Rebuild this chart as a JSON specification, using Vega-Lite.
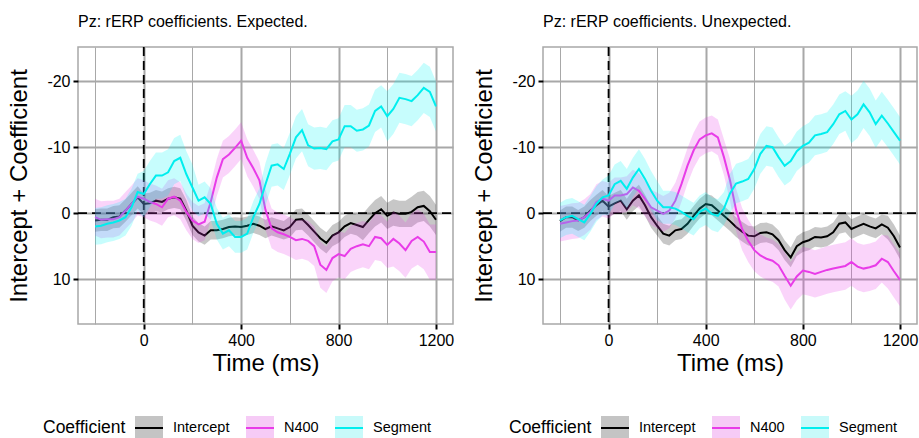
{
  "$schema": "https://vega.github.io/schema/vega-lite/v6.json",
  "padding": {"left": 7, "top": 13, "right": 4, "bottom": 1},
  "spacing": 17,
  "config": {
    "font": "Liberation Sans",
    "view": {"stroke": "#a8a8a8", "strokeWidth": 1.5},
    "axis": {"domain": false, "labelFont": "Liberation Sans", "labelFontSize": 16, "labelColor": "black", "titleFont": "Liberation Sans", "titleFontSize": 24, "titleFontWeight": "normal", "titleColor": "black", "tickColor": "black", "tickWidth": 2, "tickSize": 5, "gridColor": "#a8a8a8", "labelFlush": false, "labelOverlap": false},
    "title": {"font": "Liberation Sans", "fontSize": 16, "fontWeight": "normal", "anchor": "start", "frame": "group", "color": "black", "baseline": "alphabetic", "offset": 16},
    "legend": {"titleFont": "Liberation Sans", "labelFont": "Liberation Sans", "titleFontSize": 17.5, "titleFontWeight": "normal", "titleColor": "black", "labelFontSize": 14.5, "labelColor": "black"}
  },
  "datasets": {
    "exp": [
      {"c":"Intercept","t":-200,"y":1.1,"lo":-0.6,"hi":2.8},{"c":"Intercept","t":-175,"y":1.0,"lo":-0.7,"hi":2.7},{"c":"Intercept","t":-150,"y":1.0,"lo":-0.7,"hi":2.7},{"c":"Intercept","t":-125,"y":0.6,"lo":-1.1,"hi":2.3},{"c":"Intercept","t":-100,"y":0.5,"lo":-1.2,"hi":2.2},{"c":"Intercept","t":-75,"y":-0.4,"lo":-2.1,"hi":1.3},{"c":"Intercept","t":-50,"y":-1.4,"lo":-3.1,"hi":0.3},{"c":"Intercept","t":-25,"y":-2.4,"lo":-4.1,"hi":-0.7},{"c":"Intercept","t":0,"y":-1.4,"lo":-3.0,"hi":0.2},{"c":"Intercept","t":25,"y":-1.5,"lo":-3.1,"hi":0.1},{"c":"Intercept","t":50,"y":-1.9,"lo":-3.5,"hi":-0.3},{"c":"Intercept","t":75,"y":-1.7,"lo":-3.3,"hi":-0.1},{"c":"Intercept","t":100,"y":-2.2,"lo":-3.8,"hi":-0.6},{"c":"Intercept","t":125,"y":-2.4,"lo":-4.0,"hi":-0.8},{"c":"Intercept","t":150,"y":-2.2,"lo":-3.8,"hi":-0.6},{"c":"Intercept","t":175,"y":-0.4,"lo":-2.0,"hi":1.2},{"c":"Intercept","t":200,"y":1.9,"lo":0.5,"hi":3.3},{"c":"Intercept","t":225,"y":2.9,"lo":1.5,"hi":4.3},{"c":"Intercept","t":250,"y":3.4,"lo":2.0,"hi":4.8},{"c":"Intercept","t":275,"y":2.6,"lo":1.2,"hi":4.0},{"c":"Intercept","t":300,"y":2.6,"lo":1.2,"hi":4.0},{"c":"Intercept","t":325,"y":2.4,"lo":1.0,"hi":3.8},{"c":"Intercept","t":350,"y":2.1,"lo":0.7,"hi":3.5},{"c":"Intercept","t":375,"y":2.0,"lo":0.6,"hi":3.4},{"c":"Intercept","t":400,"y":2.1,"lo":0.7,"hi":3.5},{"c":"Intercept","t":425,"y":1.9,"lo":0.5,"hi":3.3},{"c":"Intercept","t":450,"y":1.6,"lo":0.2,"hi":3.0},{"c":"Intercept","t":475,"y":1.9,"lo":0.5,"hi":3.3},{"c":"Intercept","t":500,"y":2.4,"lo":1.0,"hi":3.8},{"c":"Intercept","t":525,"y":2.0,"lo":0.6,"hi":3.4},{"c":"Intercept","t":550,"y":2.3,"lo":0.9,"hi":3.7},{"c":"Intercept","t":575,"y":2.6,"lo":1.2,"hi":4.0},{"c":"Intercept","t":600,"y":2.1,"lo":0.5,"hi":3.7},{"c":"Intercept","t":625,"y":1.0,"lo":-0.6,"hi":2.6},{"c":"Intercept","t":650,"y":0.9,"lo":-0.7,"hi":2.5},{"c":"Intercept","t":675,"y":1.8,"lo":0.2,"hi":3.4},{"c":"Intercept","t":700,"y":2.8,"lo":1.2,"hi":4.4},{"c":"Intercept","t":725,"y":3.8,"lo":2.2,"hi":5.4},{"c":"Intercept","t":750,"y":4.5,"lo":2.9,"hi":6.1},{"c":"Intercept","t":775,"y":3.4,"lo":1.8,"hi":5.0},{"c":"Intercept","t":800,"y":2.9,"lo":1.3,"hi":4.5},{"c":"Intercept","t":825,"y":2.0,"lo":0.4,"hi":3.6},{"c":"Intercept","t":850,"y":1.5,"lo":-0.1,"hi":3.1},{"c":"Intercept","t":875,"y":1.8,"lo":0.2,"hi":3.4},{"c":"Intercept","t":900,"y":2.1,"lo":0.1,"hi":4.1},{"c":"Intercept","t":925,"y":1.0,"lo":-1.0,"hi":3.0},{"c":"Intercept","t":950,"y":0.0,"lo":-2.0,"hi":2.0},{"c":"Intercept","t":975,"y":-0.6,"lo":-2.6,"hi":1.4},{"c":"Intercept","t":1000,"y":0.4,"lo":-1.6,"hi":2.4},{"c":"Intercept","t":1025,"y":-0.1,"lo":-2.1,"hi":1.9},{"c":"Intercept","t":1050,"y":0.1,"lo":-1.9,"hi":2.1},{"c":"Intercept","t":1075,"y":0.1,"lo":-1.9,"hi":2.1},{"c":"Intercept","t":1100,"y":-0.2,"lo":-2.5,"hi":2.1},{"c":"Intercept","t":1125,"y":-0.9,"lo":-3.2,"hi":1.4},{"c":"Intercept","t":1150,"y":-1.1,"lo":-3.4,"hi":1.2},{"c":"Intercept","t":1175,"y":-0.3,"lo":-2.6,"hi":2.0},{"c":"Intercept","t":1200,"y":1.0,"lo":-1.3,"hi":3.3},
      {"c":"N400","t":-200,"y":0.6,"lo":-2.2,"hi":3.4},{"c":"N400","t":-175,"y":1.0,"lo":-1.8,"hi":3.8},{"c":"N400","t":-150,"y":0.9,"lo":-1.9,"hi":3.7},{"c":"N400","t":-125,"y":0.9,"lo":-1.9,"hi":3.7},{"c":"N400","t":-100,"y":0.6,"lo":-2.2,"hi":3.4},{"c":"N400","t":-75,"y":-0.4,"lo":-3.2,"hi":2.4},{"c":"N400","t":-50,"y":-1.4,"lo":-4.2,"hi":1.4},{"c":"N400","t":-25,"y":-2.5,"lo":-5.3,"hi":0.3},{"c":"N400","t":0,"y":-2.2,"lo":-5.0,"hi":0.6},{"c":"N400","t":25,"y":-1.7,"lo":-4.5,"hi":1.1},{"c":"N400","t":50,"y":-1.4,"lo":-4.2,"hi":1.4},{"c":"N400","t":75,"y":-0.9,"lo":-3.7,"hi":1.9},{"c":"N400","t":100,"y":-2.2,"lo":-5.0,"hi":0.6},{"c":"N400","t":125,"y":-2.5,"lo":-5.3,"hi":0.3},{"c":"N400","t":150,"y":-1.9,"lo":-4.7,"hi":0.9},{"c":"N400","t":175,"y":-0.2,"lo":-3.0,"hi":2.6},{"c":"N400","t":200,"y":1.1,"lo":-1.7,"hi":3.9},{"c":"N400","t":225,"y":1.7,"lo":-1.1,"hi":4.5},{"c":"N400","t":250,"y":1.3,"lo":-1.5,"hi":4.1},{"c":"N400","t":275,"y":-1.7,"lo":-4.5,"hi":1.1},{"c":"N400","t":300,"y":-5.4,"lo":-8.2,"hi":-2.6},{"c":"N400","t":325,"y":-8.2,"lo":-11.0,"hi":-5.4},{"c":"N400","t":350,"y":-8.9,"lo":-11.7,"hi":-6.1},{"c":"N400","t":375,"y":-9.9,"lo":-12.7,"hi":-7.1},{"c":"N400","t":400,"y":-11.0,"lo":-13.8,"hi":-8.2},{"c":"N400","t":425,"y":-8.4,"lo":-11.2,"hi":-5.6},{"c":"N400","t":450,"y":-6.8,"lo":-9.6,"hi":-4.0},{"c":"N400","t":475,"y":-5.0,"lo":-7.8,"hi":-2.2},{"c":"N400","t":500,"y":-0.5,"lo":-3.5,"hi":2.5},{"c":"N400","t":525,"y":2.3,"lo":-0.7,"hi":5.3},{"c":"N400","t":550,"y":2.9,"lo":-0.1,"hi":5.9},{"c":"N400","t":575,"y":3.2,"lo":0.2,"hi":6.2},{"c":"N400","t":600,"y":3.6,"lo":0.6,"hi":6.6},{"c":"N400","t":625,"y":4.1,"lo":1.1,"hi":7.1},{"c":"N400","t":650,"y":3.9,"lo":0.9,"hi":6.9},{"c":"N400","t":675,"y":4.2,"lo":1.2,"hi":7.2},{"c":"N400","t":700,"y":5.0,"lo":2.0,"hi":8.0},{"c":"N400","t":725,"y":7.8,"lo":4.3,"hi":11.3},{"c":"N400","t":750,"y":8.6,"lo":5.1,"hi":12.1},{"c":"N400","t":775,"y":6.8,"lo":3.3,"hi":10.3},{"c":"N400","t":800,"y":6.2,"lo":2.7,"hi":9.7},{"c":"N400","t":825,"y":6.5,"lo":3.0,"hi":10.0},{"c":"N400","t":850,"y":5.4,"lo":1.9,"hi":8.9},{"c":"N400","t":875,"y":5.0,"lo":1.5,"hi":8.5},{"c":"N400","t":900,"y":4.7,"lo":1.2,"hi":8.2},{"c":"N400","t":925,"y":5.0,"lo":1.5,"hi":8.5},{"c":"N400","t":950,"y":3.6,"lo":0.1,"hi":7.1},{"c":"N400","t":975,"y":3.8,"lo":0.3,"hi":7.3},{"c":"N400","t":1000,"y":4.8,"lo":1.3,"hi":8.3},{"c":"N400","t":1025,"y":3.9,"lo":-0.3,"hi":8.1},{"c":"N400","t":1050,"y":4.6,"lo":0.4,"hi":8.8},{"c":"N400","t":1075,"y":5.6,"lo":1.4,"hi":9.8},{"c":"N400","t":1100,"y":4.2,"lo":0.0,"hi":8.4},{"c":"N400","t":1125,"y":3.6,"lo":-0.6,"hi":7.8},{"c":"N400","t":1150,"y":4.3,"lo":0.1,"hi":8.5},{"c":"N400","t":1175,"y":5.9,"lo":1.7,"hi":10.1},{"c":"N400","t":1200,"y":5.9,"lo":1.7,"hi":10.1},
      {"c":"Segment","t":-200,"y":2.0,"lo":-0.8,"hi":4.8},{"c":"Segment","t":-175,"y":1.9,"lo":-0.9,"hi":4.7},{"c":"Segment","t":-150,"y":1.6,"lo":-1.2,"hi":4.4},{"c":"Segment","t":-125,"y":1.4,"lo":-1.4,"hi":4.2},{"c":"Segment","t":-100,"y":1.1,"lo":-1.7,"hi":3.9},{"c":"Segment","t":-75,"y":0.6,"lo":-2.2,"hi":3.4},{"c":"Segment","t":-50,"y":-0.9,"lo":-3.7,"hi":1.9},{"c":"Segment","t":-25,"y":-3.2,"lo":-6.0,"hi":-0.4},{"c":"Segment","t":0,"y":-2.9,"lo":-6.4,"hi":0.6},{"c":"Segment","t":25,"y":-4.4,"lo":-7.9,"hi":-0.9},{"c":"Segment","t":50,"y":-5.7,"lo":-9.2,"hi":-2.2},{"c":"Segment","t":75,"y":-5.7,"lo":-9.2,"hi":-2.2},{"c":"Segment","t":100,"y":-6.2,"lo":-9.7,"hi":-2.7},{"c":"Segment","t":125,"y":-7.9,"lo":-11.4,"hi":-4.4},{"c":"Segment","t":150,"y":-8.4,"lo":-11.9,"hi":-4.9},{"c":"Segment","t":175,"y":-5.9,"lo":-9.4,"hi":-2.4},{"c":"Segment","t":200,"y":-3.9,"lo":-7.4,"hi":-0.4},{"c":"Segment","t":225,"y":-1.9,"lo":-4.3,"hi":0.5},{"c":"Segment","t":250,"y":-2.4,"lo":-4.8,"hi":0.0},{"c":"Segment","t":275,"y":-1.4,"lo":-3.8,"hi":1.0},{"c":"Segment","t":300,"y":1.6,"lo":-0.8,"hi":4.0},{"c":"Segment","t":325,"y":3.1,"lo":0.7,"hi":5.5},{"c":"Segment","t":350,"y":2.6,"lo":0.2,"hi":5.0},{"c":"Segment","t":375,"y":3.6,"lo":1.2,"hi":6.0},{"c":"Segment","t":400,"y":3.6,"lo":1.2,"hi":6.0},{"c":"Segment","t":425,"y":3.1,"lo":0.7,"hi":5.5},{"c":"Segment","t":450,"y":0.6,"lo":-1.8,"hi":3.0},{"c":"Segment","t":475,"y":-1.4,"lo":-3.8,"hi":1.0},{"c":"Segment","t":500,"y":-4.4,"lo":-7.6,"hi":-1.2},{"c":"Segment","t":525,"y":-7.2,"lo":-10.4,"hi":-4.0},{"c":"Segment","t":550,"y":-7.4,"lo":-10.6,"hi":-4.2},{"c":"Segment","t":575,"y":-6.7,"lo":-9.9,"hi":-3.5},{"c":"Segment","t":600,"y":-9.0,"lo":-12.2,"hi":-5.8},{"c":"Segment","t":625,"y":-11.5,"lo":-14.7,"hi":-8.3},{"c":"Segment","t":650,"y":-12.6,"lo":-15.8,"hi":-9.4},{"c":"Segment","t":675,"y":-10.3,"lo":-13.5,"hi":-7.1},{"c":"Segment","t":700,"y":-9.8,"lo":-13.0,"hi":-6.6},{"c":"Segment","t":725,"y":-9.9,"lo":-13.1,"hi":-6.7},{"c":"Segment","t":750,"y":-9.7,"lo":-12.9,"hi":-6.5},{"c":"Segment","t":775,"y":-10.9,"lo":-14.1,"hi":-7.7},{"c":"Segment","t":800,"y":-11.2,"lo":-14.4,"hi":-8.0},{"c":"Segment","t":825,"y":-13.2,"lo":-16.4,"hi":-10.0},{"c":"Segment","t":850,"y":-13.2,"lo":-16.4,"hi":-10.0},{"c":"Segment","t":875,"y":-12.5,"lo":-15.7,"hi":-9.3},{"c":"Segment","t":900,"y":-12.7,"lo":-15.9,"hi":-9.5},{"c":"Segment","t":925,"y":-13.3,"lo":-16.5,"hi":-10.1},{"c":"Segment","t":950,"y":-15.5,"lo":-18.7,"hi":-12.3},{"c":"Segment","t":975,"y":-16.2,"lo":-19.4,"hi":-13.0},{"c":"Segment","t":1000,"y":-14.7,"lo":-18.5,"hi":-10.9},{"c":"Segment","t":1025,"y":-15.8,"lo":-19.6,"hi":-12.0},{"c":"Segment","t":1050,"y":-17.5,"lo":-21.3,"hi":-13.7},{"c":"Segment","t":1075,"y":-17.3,"lo":-21.1,"hi":-13.5},{"c":"Segment","t":1100,"y":-17.0,"lo":-20.8,"hi":-13.2},{"c":"Segment","t":1125,"y":-17.9,"lo":-21.7,"hi":-14.1},{"c":"Segment","t":1150,"y":-19.0,"lo":-22.8,"hi":-15.2},{"c":"Segment","t":1175,"y":-18.4,"lo":-22.2,"hi":-14.6},{"c":"Segment","t":1200,"y":-16.2,"lo":-20.0,"hi":-12.4}
    ],
    "unexp": [
      {"c":"Intercept","t":-200,"y":1.2,"lo":-0.4,"hi":2.8},{"c":"Intercept","t":-175,"y":0.6,"lo":-1.0,"hi":2.2},{"c":"Intercept","t":-150,"y":0.6,"lo":-1.0,"hi":2.2},{"c":"Intercept","t":-125,"y":1.1,"lo":-0.5,"hi":2.7},{"c":"Intercept","t":-100,"y":0.6,"lo":-1.0,"hi":2.2},{"c":"Intercept","t":-75,"y":-0.4,"lo":-2.0,"hi":1.2},{"c":"Intercept","t":-50,"y":-1.2,"lo":-2.8,"hi":0.4},{"c":"Intercept","t":-25,"y":-1.9,"lo":-3.5,"hi":-0.3},{"c":"Intercept","t":0,"y":-1.0,"lo":-2.6,"hi":0.6},{"c":"Intercept","t":25,"y":-1.5,"lo":-3.1,"hi":0.1},{"c":"Intercept","t":50,"y":-1.9,"lo":-3.5,"hi":-0.3},{"c":"Intercept","t":75,"y":-0.6,"lo":-2.2,"hi":1.0},{"c":"Intercept","t":100,"y":-1.9,"lo":-3.5,"hi":-0.3},{"c":"Intercept","t":125,"y":-2.7,"lo":-4.3,"hi":-1.1},{"c":"Intercept","t":150,"y":-1.2,"lo":-2.8,"hi":0.4},{"c":"Intercept","t":175,"y":0.6,"lo":-1.0,"hi":2.2},{"c":"Intercept","t":200,"y":1.9,"lo":0.4,"hi":3.4},{"c":"Intercept","t":225,"y":3.1,"lo":1.6,"hi":4.6},{"c":"Intercept","t":250,"y":3.4,"lo":1.9,"hi":4.9},{"c":"Intercept","t":275,"y":2.6,"lo":1.1,"hi":4.1},{"c":"Intercept","t":300,"y":2.4,"lo":0.9,"hi":3.9},{"c":"Intercept","t":325,"y":1.6,"lo":0.1,"hi":3.1},{"c":"Intercept","t":350,"y":0.4,"lo":-1.1,"hi":1.9},{"c":"Intercept","t":375,"y":-0.7,"lo":-2.2,"hi":0.8},{"c":"Intercept","t":400,"y":-1.4,"lo":-2.9,"hi":0.1},{"c":"Intercept","t":425,"y":-1.2,"lo":-2.7,"hi":0.3},{"c":"Intercept","t":450,"y":-0.4,"lo":-1.9,"hi":1.1},{"c":"Intercept","t":475,"y":0.4,"lo":-1.1,"hi":1.9},{"c":"Intercept","t":500,"y":1.2,"lo":-0.3,"hi":2.7},{"c":"Intercept","t":525,"y":2.1,"lo":0.6,"hi":3.6},{"c":"Intercept","t":550,"y":2.8,"lo":1.3,"hi":4.3},{"c":"Intercept","t":575,"y":3.4,"lo":1.9,"hi":4.9},{"c":"Intercept","t":600,"y":3.5,"lo":2.0,"hi":5.0},{"c":"Intercept","t":625,"y":3.0,"lo":1.5,"hi":4.5},{"c":"Intercept","t":650,"y":2.9,"lo":1.4,"hi":4.4},{"c":"Intercept","t":675,"y":3.2,"lo":1.7,"hi":4.7},{"c":"Intercept","t":700,"y":4.1,"lo":2.6,"hi":5.6},{"c":"Intercept","t":725,"y":5.6,"lo":4.1,"hi":7.1},{"c":"Intercept","t":750,"y":6.7,"lo":5.2,"hi":8.2},{"c":"Intercept","t":775,"y":5.0,"lo":3.5,"hi":6.5},{"c":"Intercept","t":800,"y":4.4,"lo":2.9,"hi":5.9},{"c":"Intercept","t":825,"y":4.1,"lo":2.6,"hi":5.6},{"c":"Intercept","t":850,"y":3.6,"lo":2.1,"hi":5.1},{"c":"Intercept","t":875,"y":3.7,"lo":2.2,"hi":5.2},{"c":"Intercept","t":900,"y":3.5,"lo":2.0,"hi":5.0},{"c":"Intercept","t":925,"y":2.9,"lo":1.4,"hi":4.4},{"c":"Intercept","t":950,"y":1.6,"lo":0.1,"hi":3.1},{"c":"Intercept","t":975,"y":1.4,"lo":-0.1,"hi":2.9},{"c":"Intercept","t":1000,"y":2.4,"lo":0.9,"hi":3.9},{"c":"Intercept","t":1025,"y":2.0,"lo":0.5,"hi":3.5},{"c":"Intercept","t":1050,"y":1.6,"lo":0.1,"hi":3.1},{"c":"Intercept","t":1075,"y":2.0,"lo":0.5,"hi":3.5},{"c":"Intercept","t":1100,"y":2.3,"lo":0.8,"hi":3.8},{"c":"Intercept","t":1125,"y":1.7,"lo":0.2,"hi":3.2},{"c":"Intercept","t":1150,"y":2.2,"lo":0.4,"hi":4.0},{"c":"Intercept","t":1175,"y":3.5,"lo":1.7,"hi":5.3},{"c":"Intercept","t":1200,"y":5.2,"lo":3.4,"hi":7.0},
      {"c":"N400","t":-200,"y":1.6,"lo":-1.1,"hi":4.3},{"c":"N400","t":-175,"y":1.4,"lo":-1.3,"hi":4.1},{"c":"N400","t":-150,"y":1.2,"lo":-1.5,"hi":3.9},{"c":"N400","t":-125,"y":1.1,"lo":-1.6,"hi":3.8},{"c":"N400","t":-100,"y":0.6,"lo":-2.1,"hi":3.3},{"c":"N400","t":-75,"y":-0.2,"lo":-2.9,"hi":2.5},{"c":"N400","t":-50,"y":-1.7,"lo":-4.4,"hi":1.0},{"c":"N400","t":-25,"y":-2.2,"lo":-4.9,"hi":0.5},{"c":"N400","t":0,"y":-1.9,"lo":-4.6,"hi":0.8},{"c":"N400","t":25,"y":-2.7,"lo":-5.4,"hi":0.0},{"c":"N400","t":50,"y":-2.7,"lo":-5.4,"hi":0.0},{"c":"N400","t":75,"y":-2.9,"lo":-5.6,"hi":-0.2},{"c":"N400","t":100,"y":-3.9,"lo":-6.6,"hi":-1.2},{"c":"N400","t":125,"y":-3.4,"lo":-6.1,"hi":-0.7},{"c":"N400","t":150,"y":-2.2,"lo":-4.9,"hi":0.5},{"c":"N400","t":175,"y":-0.9,"lo":-3.6,"hi":1.8},{"c":"N400","t":200,"y":-0.4,"lo":-3.1,"hi":2.3},{"c":"N400","t":225,"y":0.1,"lo":-2.6,"hi":2.8},{"c":"N400","t":250,"y":-0.4,"lo":-3.1,"hi":2.3},{"c":"N400","t":275,"y":-1.9,"lo":-4.6,"hi":0.8},{"c":"N400","t":300,"y":-4.4,"lo":-7.1,"hi":-1.7},{"c":"N400","t":325,"y":-7.2,"lo":-9.9,"hi":-4.5},{"c":"N400","t":350,"y":-9.5,"lo":-12.2,"hi":-6.8},{"c":"N400","t":375,"y":-11.2,"lo":-13.9,"hi":-8.5},{"c":"N400","t":400,"y":-11.8,"lo":-14.5,"hi":-9.1},{"c":"N400","t":425,"y":-12.1,"lo":-14.8,"hi":-9.4},{"c":"N400","t":450,"y":-11.5,"lo":-14.2,"hi":-8.8},{"c":"N400","t":475,"y":-8.5,"lo":-11.2,"hi":-5.8},{"c":"N400","t":500,"y":-5.0,"lo":-8.2,"hi":-1.8},{"c":"N400","t":525,"y":-0.5,"lo":-3.7,"hi":2.7},{"c":"N400","t":550,"y":2.4,"lo":-0.8,"hi":5.6},{"c":"N400","t":575,"y":4.2,"lo":1.0,"hi":7.4},{"c":"N400","t":600,"y":5.6,"lo":2.4,"hi":8.8},{"c":"N400","t":625,"y":6.4,"lo":3.2,"hi":9.6},{"c":"N400","t":650,"y":6.9,"lo":3.7,"hi":10.1},{"c":"N400","t":675,"y":7.2,"lo":4.0,"hi":10.4},{"c":"N400","t":700,"y":7.9,"lo":4.7,"hi":11.1},{"c":"N400","t":725,"y":9.5,"lo":5.9,"hi":13.1},{"c":"N400","t":750,"y":11.0,"lo":7.4,"hi":14.6},{"c":"N400","t":775,"y":9.6,"lo":6.0,"hi":13.2},{"c":"N400","t":800,"y":8.7,"lo":5.1,"hi":12.3},{"c":"N400","t":825,"y":8.9,"lo":5.3,"hi":12.5},{"c":"N400","t":850,"y":9.2,"lo":5.6,"hi":12.8},{"c":"N400","t":875,"y":8.9,"lo":5.3,"hi":12.5},{"c":"N400","t":900,"y":8.6,"lo":5.0,"hi":12.2},{"c":"N400","t":925,"y":8.4,"lo":4.8,"hi":12.0},{"c":"N400","t":950,"y":8.2,"lo":4.6,"hi":11.8},{"c":"N400","t":975,"y":8.0,"lo":4.4,"hi":11.6},{"c":"N400","t":1000,"y":7.4,"lo":3.8,"hi":11.0},{"c":"N400","t":1025,"y":8.1,"lo":4.5,"hi":11.7},{"c":"N400","t":1050,"y":8.4,"lo":4.8,"hi":12.0},{"c":"N400","t":1075,"y":8.2,"lo":4.6,"hi":11.8},{"c":"N400","t":1100,"y":7.9,"lo":4.3,"hi":11.5},{"c":"N400","t":1125,"y":6.9,"lo":3.3,"hi":10.5},{"c":"N400","t":1150,"y":7.4,"lo":3.4,"hi":11.4},{"c":"N400","t":1175,"y":8.8,"lo":4.8,"hi":12.8},{"c":"N400","t":1200,"y":10.1,"lo":6.1,"hi":14.1},
      {"c":"Segment","t":-200,"y":1.1,"lo":-1.6,"hi":3.8},{"c":"Segment","t":-175,"y":0.6,"lo":-2.1,"hi":3.3},{"c":"Segment","t":-150,"y":0.4,"lo":-2.3,"hi":3.1},{"c":"Segment","t":-125,"y":0.9,"lo":-1.8,"hi":3.6},{"c":"Segment","t":-100,"y":1.4,"lo":-1.3,"hi":4.1},{"c":"Segment","t":-75,"y":0.1,"lo":-2.6,"hi":2.8},{"c":"Segment","t":-50,"y":-1.4,"lo":-4.1,"hi":1.3},{"c":"Segment","t":-25,"y":-2.4,"lo":-5.1,"hi":0.3},{"c":"Segment","t":0,"y":-2.7,"lo":-5.7,"hi":0.3},{"c":"Segment","t":25,"y":-4.4,"lo":-7.4,"hi":-1.4},{"c":"Segment","t":50,"y":-4.9,"lo":-7.9,"hi":-1.9},{"c":"Segment","t":75,"y":-3.7,"lo":-6.7,"hi":-0.7},{"c":"Segment","t":100,"y":-5.4,"lo":-8.4,"hi":-2.4},{"c":"Segment","t":125,"y":-6.7,"lo":-9.7,"hi":-3.7},{"c":"Segment","t":150,"y":-5.2,"lo":-8.2,"hi":-2.2},{"c":"Segment","t":175,"y":-3.4,"lo":-6.4,"hi":-0.4},{"c":"Segment","t":200,"y":-1.9,"lo":-4.9,"hi":1.1},{"c":"Segment","t":225,"y":-0.9,"lo":-3.4,"hi":1.6},{"c":"Segment","t":250,"y":-0.9,"lo":-3.4,"hi":1.6},{"c":"Segment","t":275,"y":-0.7,"lo":-3.2,"hi":1.8},{"c":"Segment","t":300,"y":-0.2,"lo":-2.7,"hi":2.3},{"c":"Segment","t":325,"y":0.4,"lo":-2.1,"hi":2.9},{"c":"Segment","t":350,"y":0.9,"lo":-1.6,"hi":3.4},{"c":"Segment","t":375,"y":-0.2,"lo":-2.7,"hi":2.3},{"c":"Segment","t":400,"y":-0.7,"lo":-3.2,"hi":1.8},{"c":"Segment","t":425,"y":0.1,"lo":-2.4,"hi":2.6},{"c":"Segment","t":450,"y":0.4,"lo":-2.1,"hi":2.9},{"c":"Segment","t":475,"y":-0.7,"lo":-3.2,"hi":1.8},{"c":"Segment","t":500,"y":-3.0,"lo":-6.0,"hi":0.0},{"c":"Segment","t":525,"y":-4.5,"lo":-7.5,"hi":-1.5},{"c":"Segment","t":550,"y":-4.8,"lo":-7.8,"hi":-1.8},{"c":"Segment","t":575,"y":-5.2,"lo":-8.2,"hi":-2.2},{"c":"Segment","t":600,"y":-6.7,"lo":-9.7,"hi":-3.7},{"c":"Segment","t":625,"y":-9.0,"lo":-12.0,"hi":-6.0},{"c":"Segment","t":650,"y":-10.2,"lo":-13.2,"hi":-7.2},{"c":"Segment","t":675,"y":-10.0,"lo":-13.0,"hi":-7.0},{"c":"Segment","t":700,"y":-8.5,"lo":-11.5,"hi":-5.5},{"c":"Segment","t":725,"y":-7.2,"lo":-10.2,"hi":-4.2},{"c":"Segment","t":750,"y":-7.9,"lo":-10.9,"hi":-4.9},{"c":"Segment","t":775,"y":-9.4,"lo":-12.4,"hi":-6.4},{"c":"Segment","t":800,"y":-10.2,"lo":-13.2,"hi":-7.2},{"c":"Segment","t":825,"y":-10.7,"lo":-13.7,"hi":-7.7},{"c":"Segment","t":850,"y":-11.8,"lo":-14.8,"hi":-8.8},{"c":"Segment","t":875,"y":-12.0,"lo":-15.0,"hi":-9.0},{"c":"Segment","t":900,"y":-12.3,"lo":-15.3,"hi":-9.3},{"c":"Segment","t":925,"y":-13.5,"lo":-16.5,"hi":-10.5},{"c":"Segment","t":950,"y":-15.0,"lo":-18.0,"hi":-12.0},{"c":"Segment","t":975,"y":-15.5,"lo":-18.5,"hi":-12.5},{"c":"Segment","t":1000,"y":-14.2,"lo":-17.8,"hi":-10.6},{"c":"Segment","t":1025,"y":-15.0,"lo":-18.6,"hi":-11.4},{"c":"Segment","t":1050,"y":-16.5,"lo":-20.1,"hi":-12.9},{"c":"Segment","t":1075,"y":-15.3,"lo":-18.9,"hi":-11.7},{"c":"Segment","t":1100,"y":-13.5,"lo":-17.1,"hi":-9.9},{"c":"Segment","t":1125,"y":-14.8,"lo":-18.4,"hi":-11.2},{"c":"Segment","t":1150,"y":-13.6,"lo":-17.2,"hi":-10.0},{"c":"Segment","t":1175,"y":-12.3,"lo":-15.9,"hi":-8.7},{"c":"Segment","t":1200,"y":-11.0,"lo":-14.6,"hi":-7.4}
    ]
  },
  "resolve": {"scale": {"stroke": "independent"}, "legend": {"stroke": "independent"}},
  "hconcat": [
    {
      "width": 375, "height": 277,
      "title": "Pz: rERP coefficients. Expected.",
      "data": {"name": "exp"},
      "encoding": {
        "x": {"field": "t", "type": "quantitative", "title": "Time (ms)", "scale": {"domain": [-270, 1270], "nice": false, "zero": false},
              "axis": {"values": [-200, 0, 200, 400, 600, 800, 1000, 1200], "labelExpr": "datum.value % 400 == 0 ? '' + datum.value : ''", "grid": true, "gridWidth": {"condition": {"test": "datum.value % 400 != 0", "value": 1}, "value": 2}, "tickOpacity": {"condition": {"test": "datum.value % 400 != 0", "value": 0}, "value": 1}, "labelPadding": 3, "titlePadding": 3}}
      },
      "layer": [
        {"mark": {"type": "rule", "color": "black", "strokeWidth": 1.8, "strokeDash": [9, 5]}, "encoding": {"x": {"datum": 0, "type": "quantitative"}}, "transform": [{"filter": "datum.t == 0 && datum.c == 'Intercept'"}]},
        {"mark": {"type": "rule", "color": "black", "strokeWidth": 1.8, "strokeDash": [9, 5]}, "encoding": {"x": {"datum": 0, "type": "quantitative"}, "y": {"datum": 0, "type": "quantitative", "title": "Intercept + Coefficient", "scale": {"domain": [-25.2, 16.8], "nice": false, "zero": false, "reverse": true},
                 "axis": {"values": [-20, -15, -10, -5, 0, 5, 10, 15], "labelExpr": "datum.value % 10 == 0 ? '' + datum.value : ''", "grid": true, "gridWidth": {"condition": {"test": "datum.value % 10 != 0", "value": 1}, "value": 2}, "tickOpacity": {"condition": {"test": "datum.value % 10 != 0", "value": 0}, "value": 1}, "labelPadding": 3, "titlePadding": 15}}, "x2": {"datum": 0}}, "transform": [{"filter": "false"}]},
        {"mark": {"type": "rule", "color": "black", "strokeWidth": 1.8, "strokeDash": [9, 5]}, "encoding": {"x": {"datum": -270, "type": "quantitative"}, "x2": {"datum": 1270}, "y": {"datum": 0, "type": "quantitative", "title": "Intercept + Coefficient"}}, "transform": [{"filter": "datum.t == 0 && datum.c == 'Intercept'"}]},
        {"transform": [{"filter": "datum.c == 'Intercept'"}], "mark": {"type": "area", "color": "#000000", "fillOpacity": 0.22},
         "encoding": {"y": {"field": "lo", "type": "quantitative", "title": "Intercept + Coefficient"}, "y2": {"field": "hi"}}},
        {"transform": [{"filter": "datum.c == 'Intercept'"}], "mark": {"type": "line", "strokeWidth": 2},
         "encoding": {
           "y": {"field": "y", "type": "quantitative", "title": "Intercept + Coefficient"},
           "stroke": {"field": "c", "type": "nominal", "scale": {"domain": ["Intercept", "N400", "Segment"], "range": ["#000000", "#E83CE8", "#00EEEE"]},
             "legend": {"title": "Coefficient", "orient": "none", "legendX": -35, "legendY": 366, "direction": "horizontal", "titleOrient": "left", "titlePadding": 8, "symbolType": "M-1,0H1V-0.857H-1V0.857H1V0", "symbolSize": 784, "symbolStrokeWidth": 2, "symbolDash": [28, 300], "labelOffset": 9, "columnPadding": 12,
               "encode": {"symbols": {"update": {"fill": {"signal": "datum.value == 'Intercept' ? '#c4c4c4' : datum.value == 'N400' ? '#f6cbf6' : '#c8fafa'"}, "fillOpacity": {"value": 1}}}}}}
         }},
        {"transform": [{"filter": "datum.c == 'N400'"}], "mark": {"type": "area", "color": "#E83CE8", "fillOpacity": 0.22},
         "encoding": {"y": {"field": "lo", "type": "quantitative", "title": "Intercept + Coefficient"}, "y2": {"field": "hi"}}},
        {"transform": [{"filter": "datum.c == 'N400'"}], "mark": {"type": "line", "strokeWidth": 2},
         "encoding": {"y": {"field": "y", "type": "quantitative", "title": "Intercept + Coefficient"}, "stroke": {"field": "c", "type": "nominal"}}},
        {"transform": [{"filter": "datum.c == 'Segment'"}], "mark": {"type": "area", "color": "#00F4F4", "fillOpacity": 0.22},
         "encoding": {"y": {"field": "lo", "type": "quantitative", "title": "Intercept + Coefficient"}, "y2": {"field": "hi"}}},
        {"transform": [{"filter": "datum.c == 'Segment'"}], "mark": {"type": "line", "strokeWidth": 2},
         "encoding": {"y": {"field": "y", "type": "quantitative", "title": "Intercept + Coefficient"}, "stroke": {"field": "c", "type": "nominal"}}}
      ]
    },
    {
      "width": 374, "height": 277,
      "title": "Pz: rERP coefficients. Unexpected.",
      "data": {"name": "unexp"},
      "encoding": {
        "x": {"field": "t", "type": "quantitative", "title": "Time (ms)", "scale": {"domain": [-270, 1270], "nice": false, "zero": false},
              "axis": {"values": [-200, 0, 200, 400, 600, 800, 1000, 1200], "labelExpr": "datum.value % 400 == 0 ? '' + datum.value : ''", "grid": true, "gridWidth": {"condition": {"test": "datum.value % 400 != 0", "value": 1}, "value": 2}, "tickOpacity": {"condition": {"test": "datum.value % 400 != 0", "value": 0}, "value": 1}, "labelPadding": 3, "titlePadding": 3}}
      },
      "layer": [
        {"mark": {"type": "rule", "color": "black", "strokeWidth": 1.8, "strokeDash": [9, 5]}, "encoding": {"x": {"datum": 0, "type": "quantitative"}}, "transform": [{"filter": "datum.t == 0 && datum.c == 'Intercept'"}]},
        {"mark": {"type": "rule", "color": "black", "strokeWidth": 1.8, "strokeDash": [9, 5]}, "encoding": {"x": {"datum": 0, "type": "quantitative"}, "y": {"datum": 0, "type": "quantitative", "title": "Intercept + Coefficient", "scale": {"domain": [-25.2, 16.8], "nice": false, "zero": false, "reverse": true},
                 "axis": {"values": [-20, -15, -10, -5, 0, 5, 10, 15], "labelExpr": "datum.value % 10 == 0 ? '' + datum.value : ''", "grid": true, "gridWidth": {"condition": {"test": "datum.value % 10 != 0", "value": 1}, "value": 2}, "tickOpacity": {"condition": {"test": "datum.value % 10 != 0", "value": 0}, "value": 1}, "labelPadding": 3, "titlePadding": 15}}, "x2": {"datum": 0}}, "transform": [{"filter": "false"}]},
        {"mark": {"type": "rule", "color": "black", "strokeWidth": 1.8, "strokeDash": [9, 5]}, "encoding": {"x": {"datum": -270, "type": "quantitative"}, "x2": {"datum": 1270}, "y": {"datum": 0, "type": "quantitative", "title": "Intercept + Coefficient"}}, "transform": [{"filter": "datum.t == 0 && datum.c == 'Intercept'"}]},
        {"transform": [{"filter": "datum.c == 'Intercept'"}], "mark": {"type": "area", "color": "#000000", "fillOpacity": 0.22},
         "encoding": {"y": {"field": "lo", "type": "quantitative", "title": "Intercept + Coefficient"}, "y2": {"field": "hi"}}},
        {"transform": [{"filter": "datum.c == 'Intercept'"}], "mark": {"type": "line", "strokeWidth": 2},
         "encoding": {
           "y": {"field": "y", "type": "quantitative", "title": "Intercept + Coefficient"},
           "stroke": {"field": "c", "type": "nominal", "scale": {"domain": ["Intercept", "N400", "Segment"], "range": ["#000000", "#E83CE8", "#00EEEE"]},
             "legend": {"title": "Coefficient", "orient": "none", "legendX": -34, "legendY": 366, "direction": "horizontal", "titleOrient": "left", "titlePadding": 8, "symbolType": "M-1,0H1V-0.857H-1V0.857H1V0", "symbolSize": 784, "symbolStrokeWidth": 2, "symbolDash": [28, 300], "labelOffset": 9, "columnPadding": 12,
               "encode": {"symbols": {"update": {"fill": {"signal": "datum.value == 'Intercept' ? '#c4c4c4' : datum.value == 'N400' ? '#f6cbf6' : '#c8fafa'"}, "fillOpacity": {"value": 1}}}}}}
         }},
        {"transform": [{"filter": "datum.c == 'N400'"}], "mark": {"type": "area", "color": "#E83CE8", "fillOpacity": 0.22},
         "encoding": {"y": {"field": "lo", "type": "quantitative", "title": "Intercept + Coefficient"}, "y2": {"field": "hi"}}},
        {"transform": [{"filter": "datum.c == 'N400'"}], "mark": {"type": "line", "strokeWidth": 2},
         "encoding": {"y": {"field": "y", "type": "quantitative", "title": "Intercept + Coefficient"}, "stroke": {"field": "c", "type": "nominal"}}},
        {"transform": [{"filter": "datum.c == 'Segment'"}], "mark": {"type": "area", "color": "#00F4F4", "fillOpacity": 0.22},
         "encoding": {"y": {"field": "lo", "type": "quantitative", "title": "Intercept + Coefficient"}, "y2": {"field": "hi"}}},
        {"transform": [{"filter": "datum.c == 'Segment'"}], "mark": {"type": "line", "strokeWidth": 2},
         "encoding": {"y": {"field": "y", "type": "quantitative", "title": "Intercept + Coefficient"}, "stroke": {"field": "c", "type": "nominal"}}}
      ]
    }
  ]
}
